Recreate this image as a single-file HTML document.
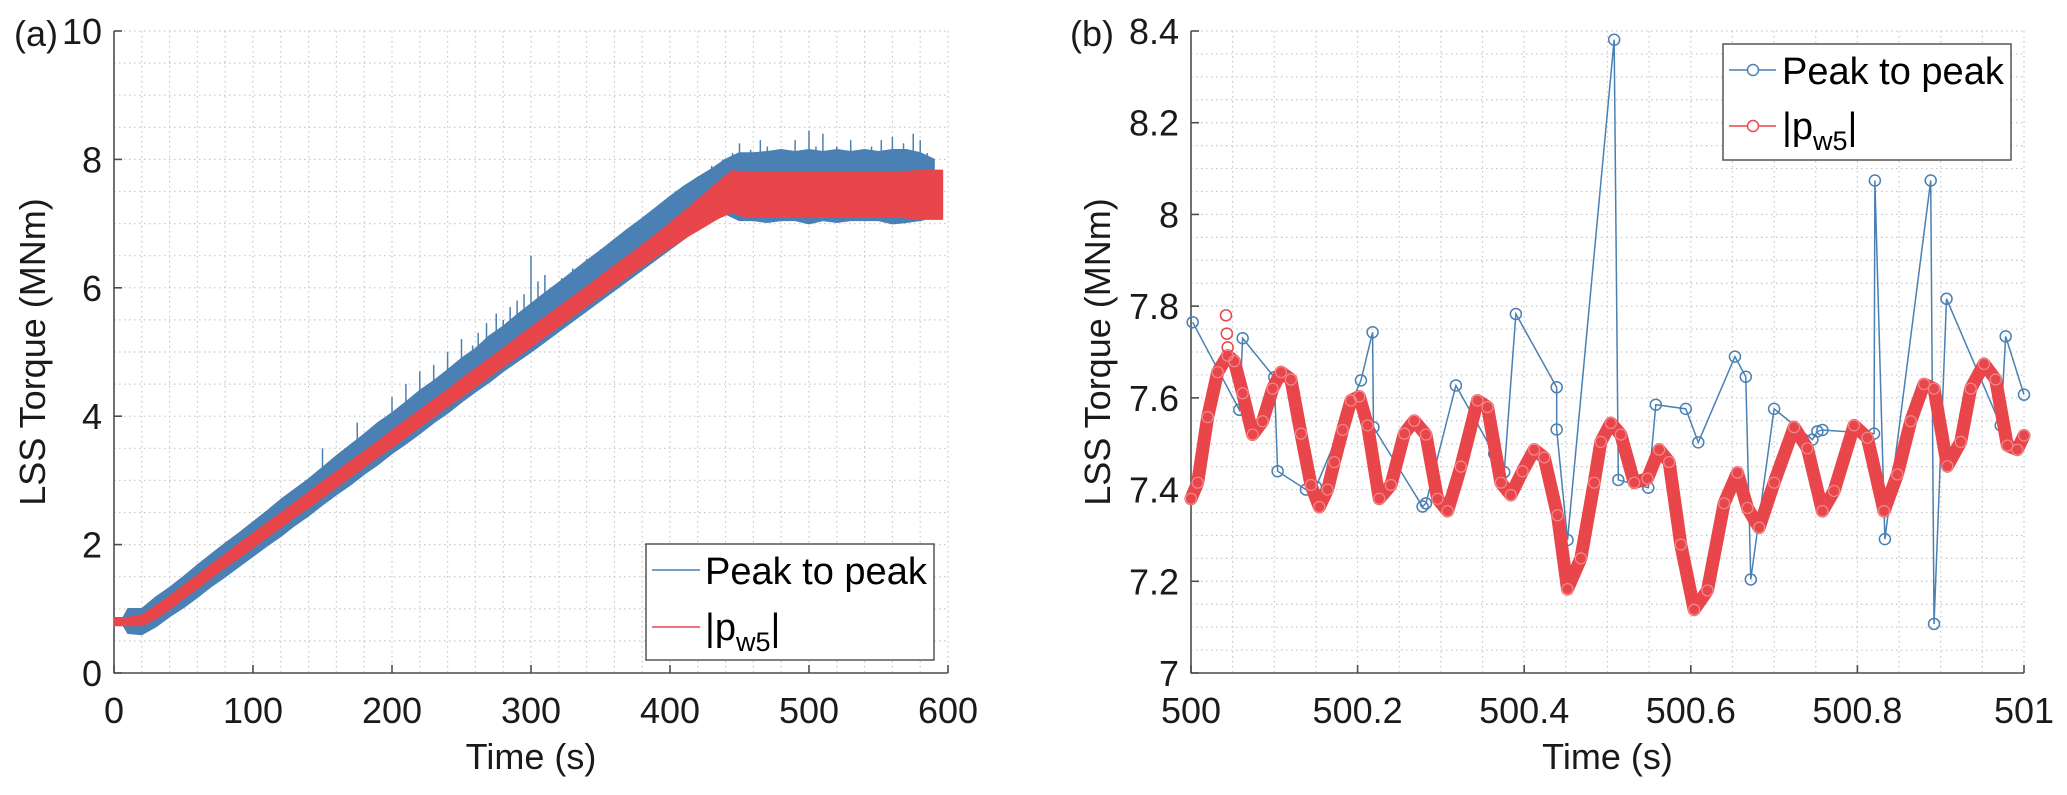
<!DOCTYPE html>
<html><head><meta charset="utf-8"><style>
html,body{margin:0;padding:0;background:#fff;}
svg{display:block;font-family:"Liberation Sans",Arial,sans-serif;}
</style></head><body>
<svg id="fig" width="2067" height="795" viewBox="0 0 2067 795" xmlns="http://www.w3.org/2000/svg"></svg>
<script>
// ---------- Panel (a) data ----------
const aTimes = [0,10,20,30,40,50,60,70,80,90,100,110,120,130,140,150,160,170,180,190,200,210,220,230,240,250,260,270,280,290,300,310,320,330,340,350,360,370,380,390,400,410,420,430,440,450,460,470,480,490,500,510,520,530,540,550,560,570,580,590];
const aRedCenter = [0.8,0.8,0.82,0.95,1.1,1.27,1.43,1.6,1.76,1.92,2.08,2.24,2.4,2.56,2.72,2.88,3.04,3.2,3.36,3.52,3.68,3.84,4.0,4.16,4.32,4.48,4.64,4.8,4.96,5.12,5.28,5.44,5.6,5.76,5.92,6.08,6.24,6.4,6.56,6.72,6.88,7.04,7.2,7.36,7.5,7.45,7.45,7.45,7.45,7.45,7.45,7.45,7.45,7.45,7.45,7.45,7.45,7.45,7.45,7.45];
const aRedHalf = [0.06,0.06,0.08,0.1,0.1,0.1,0.1,0.1,0.1,0.11,0.11,0.11,0.11,0.11,0.12,0.12,0.12,0.12,0.12,0.12,0.13,0.13,0.13,0.13,0.13,0.14,0.14,0.14,0.14,0.15,0.15,0.15,0.15,0.15,0.15,0.16,0.16,0.16,0.17,0.18,0.2,0.22,0.25,0.28,0.32,0.35,0.35,0.35,0.35,0.35,0.35,0.35,0.35,0.35,0.35,0.35,0.35,0.37,0.38,0.38];
const aBlueLow = [0.8,0.62,0.6,0.72,0.88,1.02,1.18,1.35,1.5,1.66,1.82,1.98,2.13,2.3,2.45,2.62,2.78,2.93,3.1,3.25,3.42,3.57,3.73,3.9,4.05,4.22,4.38,4.53,4.7,4.85,5.0,5.16,5.32,5.48,5.64,5.8,5.96,6.12,6.28,6.44,6.6,6.76,6.95,7.1,7.15,7.05,7.05,7.02,7.05,7.05,7.0,7.05,7.02,7.05,7.05,7.05,7.0,7.02,7.05,7.1];
const aBlueHigh = [0.8,1.0,1.0,1.18,1.33,1.5,1.68,1.85,2.02,2.18,2.35,2.52,2.7,2.86,3.02,3.2,3.38,3.55,3.72,3.9,4.05,4.22,4.4,4.55,4.72,4.9,5.05,5.25,5.4,5.58,5.75,5.92,6.08,6.25,6.42,6.58,6.75,6.92,7.08,7.25,7.42,7.58,7.72,7.85,8.0,8.1,8.1,8.12,8.15,8.12,8.15,8.12,8.15,8.12,8.15,8.12,8.15,8.15,8.1,8.0];
const aSpikeT = [150,175,200,210,220,230,240,250,258,262,268,275,280,285,290,295,300,305,310,315,322,330,340,350,358,365,372,380,390,400,410,420,430,438,445,450,458,465,470,480,490,500,505,510,520,530,538,545,552,560,568,575,580,585];
const aSpikeV = [3.5,3.9,4.3,4.5,4.7,4.8,5.0,5.2,5.1,5.3,5.45,5.6,5.5,5.7,5.8,5.9,6.5,6.1,6.2,6.0,6.15,6.3,6.45,6.6,6.7,6.8,6.95,7.0,7.2,7.3,7.5,7.6,7.9,8.0,8.1,8.25,8.15,8.3,8.2,8.1,8.3,8.45,8.2,8.4,8.2,8.3,8.15,8.2,8.3,8.35,8.25,8.4,8.3,8.1];
const aXTicks = [0,100,200,300,400,500,600];
const aYTicks = [0,2,4,6,8,10];

// ---------- Panel (b) data ----------
const bRedT = [500,500.008,500.02,500.032,500.044,500.052,500.062,500.074,500.086,500.098,500.108,500.12,500.132,500.144,500.154,500.164,500.172,500.182,500.192,500.202,500.212,500.226,500.24,500.256,500.268,500.282,500.296,500.308,500.324,500.344,500.356,500.372,500.384,500.398,500.412,500.424,500.44,500.452,500.468,500.484,500.492,500.504,500.516,500.532,500.548,500.562,500.574,500.588,500.604,500.62,500.64,500.656,500.668,500.682,500.7,500.724,500.74,500.758,500.772,500.796,500.812,500.832,500.848,500.864,500.88,500.892,500.908,500.924,500.936,500.952,500.966,500.98,500.992,501];
const bRedV = [7.38,7.415,7.558,7.656,7.692,7.68,7.61,7.52,7.549,7.62,7.656,7.64,7.522,7.41,7.362,7.4,7.46,7.53,7.594,7.603,7.54,7.38,7.41,7.522,7.55,7.52,7.38,7.353,7.45,7.594,7.58,7.415,7.388,7.44,7.487,7.47,7.344,7.183,7.25,7.415,7.504,7.545,7.52,7.415,7.424,7.487,7.46,7.28,7.138,7.18,7.37,7.437,7.36,7.317,7.415,7.536,7.49,7.353,7.397,7.54,7.513,7.353,7.433,7.549,7.63,7.62,7.451,7.504,7.62,7.674,7.64,7.496,7.487,7.518];
const bRedExtraT = [500.042,500.043,500.044];
const bRedExtraV = [7.78,7.74,7.71];
const bBlueT = [500.002,500.058,500.062,500.1,500.104,500.138,500.15,500.204,500.218,500.219,500.278,500.282,500.318,500.364,500.376,500.39,500.439,500.439,500.452,500.508,500.513,500.549,500.558,500.594,500.609,500.653,500.666,500.672,500.7,500.746,500.752,500.758,500.82,500.821,500.833,500.888,500.892,500.907,500.972,500.978,501];
const bBlueV = [7.765,7.574,7.73,7.645,7.44,7.40,7.406,7.638,7.743,7.536,7.363,7.37,7.627,7.478,7.438,7.783,7.623,7.531,7.29,8.381,7.421,7.404,7.585,7.576,7.503,7.69,7.646,7.204,7.576,7.509,7.527,7.53,7.522,8.074,7.292,8.074,7.107,7.816,7.54,7.734,7.607];
const bXTicks = [500,500.2,500.4,500.6,500.8,501];
const bXTickLabels = ["500","500.2","500.4","500.6","500.8","501"];
const bYTicks = [7,7.2,7.4,7.6,7.8,8,8.2,8.4];
const bYTickLabels = ["7","7.2","7.4","7.6","7.8","8","8.2","8.4"];

const NS = "http://www.w3.org/2000/svg";
const svg = document.getElementById('fig');
const BLUE = "#4a80b3", RED = "#e8464b", AX = "#4d4d4d", GRID = "#c8c8c8";
const FS = 36;
function mk(tag, attrs, parent){
  const e = document.createElementNS(NS, tag);
  for (const k in attrs) e.setAttribute(k, attrs[k]);
  (parent||svg).appendChild(e);
  return e;
}
function scale(d0,d1,p0,p1){ return v => p0 + (v-d0)/(d1-d0)*(p1-p0); }

function axes(g, X, Y, L, R, T, B, xMinor, yMinor, xt, xtl, yt, ytl){
  const grid = mk('g', {}, g);
  
  
  xMinor.forEach(v => mk('line', {x1:X(v),x2:X(v),y1:T,y2:B,stroke:GRID,'stroke-width':1.2,'stroke-dasharray':'1.5,3.5'}, grid));
  yMinor.forEach(v => mk('line', {x1:L,x2:R,y1:Y(v),y2:Y(v),stroke:GRID,'stroke-width':1.2,'stroke-dasharray':'1.5,3.5'}, grid));
  const ax = mk('g', {}, g);
  
  
  mk('line', {x1:L,x2:L,y1:T,y2:B+0.5,stroke:AX,'stroke-width':1.6}, ax);
  mk('line', {x1:L,x2:R,y1:B,y2:B,stroke:AX,'stroke-width':1.6}, ax);
  xt.forEach((v,i) => {
    mk('line', {x1:X(v),x2:X(v),y1:B,y2:B-8,stroke:AX,'stroke-width':1.6}, ax);
    const t = mk('text', {x:X(v),y:723,'font-size':FS,'text-anchor':'middle',fill:'#1a1a1a'}, ax);
    t.textContent = xtl[i];
    
    
  });
  yt.forEach((v,i) => {
    mk('line', {x1:L,x2:L+8,y1:Y(v),y2:Y(v),stroke:AX,'stroke-width':1.6}, ax);
    const t = mk('text', {x:L-12,y:Y(v)+13,'font-size':FS,'text-anchor':'end',fill:'#1a1a1a'}, ax);
    t.textContent = ytl[i];
    
    
  });
}
function range(a,b,s){ const r=[]; for(let v=a; v<=b+1e-9; v+=s) r.push(+v.toFixed(4)); return r; }

// ---------- Panel (a) ----------
(function(){
  const L=114,R=948,T=31,B=673;
  const X = scale(0,600,L,R), Y = scale(0,10,B,T);
  const g = mk('g', {});
  
  
  axes(g, X, Y, L, R, T, B, range(0,600,20), range(0,10,0.5), aXTicks, aXTicks.map(String), aYTicks, aYTicks.map(String));
  let pts = aTimes.map((t,i)=>[X(Math.max(t,5)),Y(aBlueHigh[i])]);
  pts = pts.concat(aTimes.slice().reverse().map((t,j)=>{const i=aTimes.length-1-j;return [X(Math.max(t,5)),Y(aBlueLow[i])];}));
  const blue = mk('polygon', {points: pts.map(p=>p.join(',')).join(' '), fill:BLUE, stroke:BLUE,'stroke-width':1.5,'stroke-linejoin':'round'}, g);
  
  
  const spikes = mk('g', {}, g);
  
  
  aSpikeT.forEach((t,k)=>{
    let i = Math.min(aTimes.length-1, Math.round(t/10));
    mk('line', {x1:X(t),x2:X(t),y1:Y(aRedCenter[i]),y2:Y(aSpikeV[k]),stroke:BLUE,'stroke-width':1.5}, spikes);
  });
  const tr = aTimes.map(t=>t+6*(t/590));
  let rp = tr.map((t,i)=>[X(t),Y(aRedCenter[i]+aRedHalf[i])]);
  rp = rp.concat(tr.slice().reverse().map((t,j)=>{const i=tr.length-1-j;return [X(t),Y(aRedCenter[i]-aRedHalf[i])];}));
  const red = mk('polygon', {points: rp.map(p=>p.join(',')).join(' '), fill:RED, stroke:RED,'stroke-width':1.5,'stroke-linejoin':'round'}, g);
  
  
  const lg = mk('g', {}, g);
  
  
  mk('rect', {x:646,y:544,width:288,height:116,fill:'#fff',stroke:'#555','stroke-width':1.5}, lg);
  mk('line', {x1:652,x2:700,y1:570,y2:570,stroke:BLUE,'stroke-width':1.5}, lg);
  mk('line', {x1:652,x2:700,y1:627,y2:627,stroke:RED,'stroke-width':1.5}, lg);
  const t1 = mk('text', {x:705,y:584,'font-size':38,fill:'#000'}, lg); t1.textContent='Peak to peak';
  
  
  const t2 = mk('text', {x:705,y:640,'font-size':38,fill:'#000'}, lg);
  t2.innerHTML = '|p<tspan font-size="27" dy="11">w5</tspan><tspan dy="-11">|</tspan>';
  
  
  const xl = mk('text', {x:(L+R)/2,y:769,'font-size':FS,'text-anchor':'middle',fill:'#1a1a1a'}, g); xl.textContent='Time (s)';
  
  
  const yl = mk('text', {x:0,y:0,'font-size':FS,'text-anchor':'middle',fill:'#1a1a1a',transform:`translate(45,${(T+B)/2}) rotate(-90)`}, g); yl.textContent='LSS Torque (MNm)';
  
  
  const pl = mk('text', {x:14,y:46,'font-size':FS,fill:'#1a1a1a'}, g); pl.textContent='(a)';
  
  
})();

// ---------- Panel (b) ----------
(function(){
  const L=1191,R=2024,T=31,B=673;
  const X = scale(500,501,L,R), Y = scale(7,8.4,B,T);
  const g = mk('g', {});
  
  
  axes(g, X, Y, L, R, T, B, range(500,501,0.05), range(7,8.4,0.05), bXTicks, bXTickLabels, bYTicks, bYTickLabels);
  const bl = mk('polyline', {points: bBlueT.map((t,i)=>X(t)+','+Y(bBlueV[i])).join(' '), fill:'none', stroke:BLUE,'stroke-width':1.5}, g);
  
  
  const bm = mk('g', {}, g);
  
  
  bBlueT.forEach((t,i)=>mk('circle', {cx:X(t),cy:Y(bBlueV[i]),r:5.5,fill:'none',stroke:BLUE,'stroke-width':1.5}, bm));
  const rl = mk('polyline', {points: bRedT.map((t,i)=>X(t)+','+Y(bRedV[i])).join(' '), fill:'none', stroke:RED,'stroke-width':13,'stroke-linejoin':'round','stroke-linecap':'round'}, g);
  
  
  const rm = mk('g', {}, g);
  
  
  bRedT.forEach((t,i)=>mk('circle', {cx:X(t),cy:Y(bRedV[i]),r:5.5,fill:'none',stroke:'#f08a8d','stroke-width':1.2}, rm));
  bRedExtraT.forEach((t,i)=>mk('circle', {cx:X(t),cy:Y(bRedExtraV[i]),r:5.5,fill:'none',stroke:RED,'stroke-width':1.5}, rm));
  const lg = mk('g', {}, g);
  
  
  mk('rect', {x:1723,y:44,width:288,height:116,fill:'#fff',stroke:'#555','stroke-width':1.5}, lg);
  mk('line', {x1:1729,x2:1776,y1:70,y2:70,stroke:BLUE,'stroke-width':1.5}, lg);
  mk('circle', {cx:1753,cy:70,r:5.5,fill:'#fff',stroke:BLUE,'stroke-width':1.5}, lg);
  mk('line', {x1:1729,x2:1776,y1:126,y2:126,stroke:RED,'stroke-width':1.5}, lg);
  mk('circle', {cx:1753,cy:126,r:5.5,fill:'#fff',stroke:RED,'stroke-width':1.5}, lg);
  const t1 = mk('text', {x:1782,y:84,'font-size':38,fill:'#000'}, lg); t1.textContent='Peak to peak';
  
  
  const t2 = mk('text', {x:1782,y:139,'font-size':38,fill:'#000'}, lg);
  t2.innerHTML = '|p<tspan font-size="27" dy="11">w5</tspan><tspan dy="-11">|</tspan>';
  
  
  const xl = mk('text', {x:(L+R)/2,y:769,'font-size':FS,'text-anchor':'middle',fill:'#1a1a1a'}, g); xl.textContent='Time (s)';
  
  
  const yl = mk('text', {x:0,y:0,'font-size':FS,'text-anchor':'middle',fill:'#1a1a1a',transform:`translate(1110,${(T+B)/2}) rotate(-90)`}, g); yl.textContent='LSS Torque (MNm)';
  
  
  const pl = mk('text', {x:1070,y:46,'font-size':FS,fill:'#1a1a1a'}, g); pl.textContent='(b)';
  
  
})();
</script>
</body></html>
